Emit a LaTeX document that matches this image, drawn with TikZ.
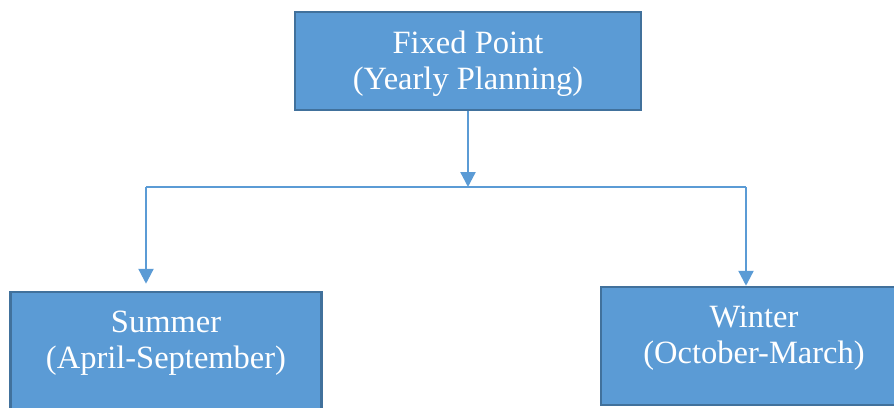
\documentclass[tikz,border=0pt]{standalone}
\usepackage{fontspec}
\setmainfont{Liberation Serif}
\usepackage{tikz}
\usetikzlibrary{positioning, arrows.meta}

\definecolor{boxfill}{HTML}{5B9BD5}
\definecolor{boxedge}{HTML}{41719C}

\tikzset{
	seasonbox/.style={draw=boxedge, line width=2.5pt, fill=boxfill, inner sep=0pt},
	boxtext/.style={text=white, align=center, inner sep=0pt, font=\fontsize{32.5}{36}\selectfont},
	rail/.style={draw=boxfill, line width=2.3pt},
	link/.style={rail, -{Triangle[width=15pt,length=15pt]}},
}

\begin{document}
\begin{tikzpicture}[x=1pt, y=-1pt]
			\useasboundingbox (0,0) rectangle (894,407);
			\clip (0,0) rectangle (894,407);

			% the three boxes
			\begin{scope}
				\node[seasonbox, minimum width=346pt, minimum height=98pt] (fixed) at (468,61) {};
				\node[seasonbox, minimum width=311pt, minimum height=125pt] (summer) at (166,354.5) {};
				\node[seasonbox, minimum width=306pt, minimum height=118pt] (winter) at (754,346) {};
			\end{scope}

			\begin{scope}
				\node[boxtext, below=20pt of fixed.north] (fixedtext) {Fixed Point\\(Yearly Planning)};
				\node[boxtext, below=20pt of summer.north] (summertext) {Summer\\(April-September)};
				\node[boxtext, below=20pt of winter.north] (wintertext) {Winter\\(October-March)};
			\end{scope}

			% branching connectors
			\coordinate (hub) at (469,187);
			\coordinate (leftend) at (146,187);
			\coordinate (rightend) at (746,187);

			\begin{scope}
				\draw[link] (fixed.south) -- (fixed.south |- hub);
				\draw[rail] (leftend) -- (rightend);
				\draw[link, shorten >=7pt] (leftend) -- (leftend |- summer.north);
				\draw[link] (rightend) -- (rightend |- winter.north);
			\end{scope}
		\end{tikzpicture}
\end{document}
